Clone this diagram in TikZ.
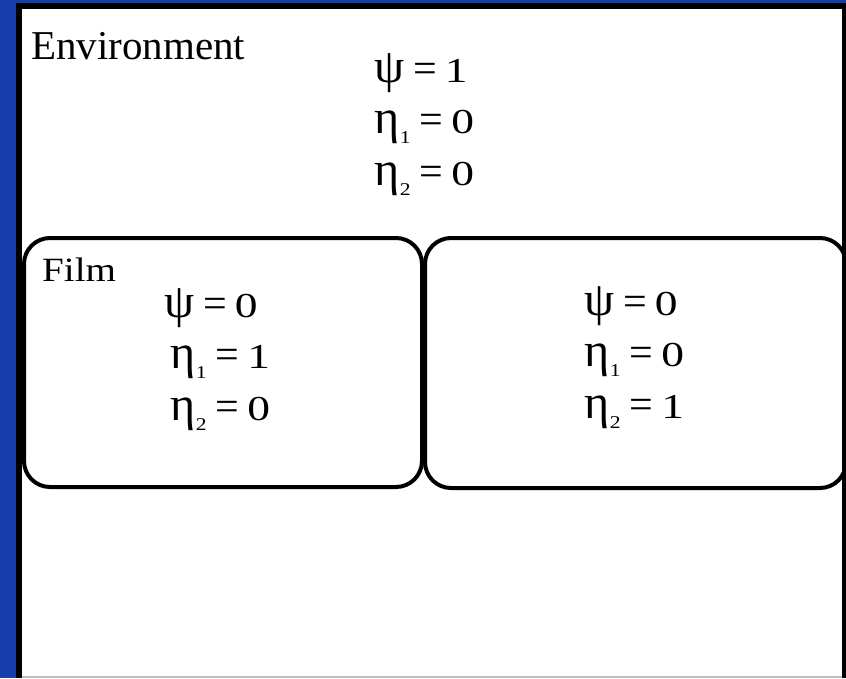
\documentclass[tikz,border=0pt]{standalone}
\usepackage{fontspec}
\setmainfont{Liberation Serif}
\definecolor{bgblue}{RGB}{22,62,170}
\definecolor{edgegray}{RGB}{190,190,190}
\newcommand{\gkl}[1]{{\fontsize{48}{48}\selectfont #1}}
\newcommand{\subd}[1]{\hspace{0.5pt}\raisebox{-10pt}{\scalebox{1.2}[1]{\fontsize{18}{18}\selectfont #1}}}
\newcommand{\eqs}{\hspace{9pt}{\fontsize{42}{42}\selectfont =}\hspace{8pt}}
\newcommand{\dig}[1]{\scalebox{1.3}[1]{\fontsize{35}{35}\selectfont #1}}
\begin{document}
\begin{tikzpicture}[x=1pt,y=-1pt,
  region/.style={draw=black, line width=4pt, rounded corners=26pt, anchor=north west, inner sep=0pt},
  eq/.style={anchor=base west, inner sep=0pt},
  lbl/.style={anchor=base west, inner sep=0pt}]
\useasboundingbox (0,0) rectangle (846,678);
\fill[bgblue] (0,0) rectangle (846,678);
% white panel with black frame
\fill[white] (19,6) rectangle (846,678);
\draw[edgegray, line width=1.5pt] (19,677) -- (846,677);
\draw[black, line width=6pt] (19,678) -- (19,6) -- (844.5,6) -- (844.5,678);
% labels
\node[lbl, font=\fontsize{41}{41}\selectfont] (env) at (31,59) {Environment};
\node[eq] (e1) at (374,82) {\gkl{ψ}\eqs\dig{1}};
\node[eq] (e2) at (374,133) {\gkl{η}\subd{1}\eqs\dig{0}};
\node[eq] (e3) at (374,185) {\gkl{η}\subd{2}\eqs\dig{0}};
% film regions
\node[region, minimum width=398pt, minimum height=249pt] (film) at (22,236) {};
\node[region, minimum width=421pt, minimum height=250pt] (right) at (423,236) {};
\node[lbl, font=\fontsize{34}{34}\selectfont] (filmlbl) at (42,281) {\scalebox{1.15}[1]{Film}};
\node[eq] (f1) at (164,317) {\gkl{ψ}\eqs\dig{0}};
\node[eq] (f2) at (170,368) {\gkl{η}\subd{1}\eqs\dig{1}};
\node[eq] (f3) at (170,420) {\gkl{η}\subd{2}\eqs\dig{0}};
\node[eq] (r1) at (584,315) {\gkl{ψ}\eqs\dig{0}};
\node[eq] (r2) at (584,366) {\gkl{η}\subd{1}\eqs\dig{0}};
\node[eq] (r3) at (584,418) {\gkl{η}\subd{2}\eqs\dig{1}};
\end{tikzpicture}
\end{document}
